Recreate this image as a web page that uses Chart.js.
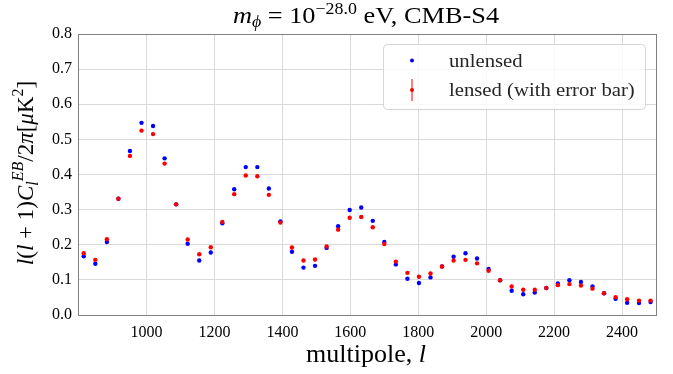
<!DOCTYPE html>
<html><head><meta charset="utf-8">
<script src="https://cdn.jsdelivr.net/npm/chart.js@4/dist/chart.umd.min.js"></script>
<style>html,body{margin:0;padding:0;background:#fff;}canvas{display:block;}</style>
</head><body>
<canvas id="c" width="673" height="374"></canvas>
<script>
const ells = [815, 849, 883, 917, 951, 985, 1019, 1053, 1087, 1121, 1155, 1189, 1223, 1258, 1292, 1326, 1360, 1394, 1428, 1462, 1496, 1530, 1564, 1598, 1632, 1666, 1700, 1734, 1768, 1802, 1836, 1870, 1904, 1939, 1973, 2007, 2041, 2075, 2109, 2143, 2177, 2211, 2245, 2279, 2313, 2347, 2381, 2415, 2450, 2484];
const unlensed = [0.167, 0.146, 0.208, 0.331, 0.467, 0.547, 0.538, 0.446, 0.315, 0.203, 0.155, 0.178, 0.261, 0.358, 0.421, 0.421, 0.360, 0.266, 0.180, 0.135, 0.140, 0.191, 0.253, 0.299, 0.306, 0.268, 0.208, 0.144, 0.103, 0.091, 0.107, 0.138, 0.166, 0.176, 0.161, 0.131, 0.099, 0.069, 0.059, 0.064, 0.077, 0.090, 0.099, 0.094, 0.081, 0.062, 0.046, 0.035, 0.034, 0.037];
const lensed = [0.176, 0.157, 0.216, 0.331, 0.453, 0.525, 0.515, 0.431, 0.315, 0.215, 0.173, 0.193, 0.265, 0.344, 0.397, 0.395, 0.342, 0.263, 0.192, 0.155, 0.158, 0.195, 0.243, 0.277, 0.279, 0.250, 0.202, 0.152, 0.120, 0.109, 0.118, 0.138, 0.155, 0.157, 0.147, 0.126, 0.099, 0.081, 0.072, 0.072, 0.077, 0.085, 0.088, 0.084, 0.075, 0.062, 0.051, 0.045, 0.041, 0.041];
const xTicks = [1000, 1200, 1400, 1600, 1800, 2000, 2200, 2400];
const yTicks = [0.0, 0.1, 0.2, 0.3, 0.4, 0.5, 0.6, 0.7, 0.8];
const seriesNames = ['unlensed', 'lensed (with error bar)'];

const SERIF = '"Liberation Serif", "DejaVu Serif", serif';

function drawRich(ctx, parts, x, y, align, sx) {
  sx = sx || 1;
  let total = 0;
  const ms = parts.map(p => {
    ctx.font = (p.italic ? 'italic ' : '') + p.size + 'px ' + SERIF;
    const w = ctx.measureText(p.t).width;
    total += w;
    return w;
  });
  ctx.save();
  ctx.translate(x, y);
  ctx.scale(sx, 1);
  let cx = align === 'center' ? -total / 2 : 0;
  ctx.textBaseline = 'alphabetic';
  ctx.textAlign = 'left';
  parts.forEach((p, i) => {
    ctx.font = (p.italic ? 'italic ' : '') + p.size + 'px ' + SERIF;
    ctx.fillText(p.t, cx, (p.dy || 0));
    cx += ms[i];
  });
  ctx.restore();
}

const decor = {
  id: 'decor',
  afterDatasetsDraw(chart) {
    const ctx = chart.ctx, a = chart.chartArea;
    ctx.save();
    // frame
    ctx.strokeStyle = '#808080';
    ctx.lineWidth = 1;
    ctx.strokeRect(a.left + 0.5, a.top + 0.5, a.right - a.left, a.bottom - a.top);
    // legend
    const lx = 383.5, ly = 44.5, lw = 262, lh = 65, r = 4;
    ctx.beginPath();
    ctx.moveTo(lx + r, ly);
    ctx.arcTo(lx + lw, ly, lx + lw, ly + lh, r);
    ctx.arcTo(lx + lw, ly + lh, lx, ly + lh, r);
    ctx.arcTo(lx, ly + lh, lx, ly, r);
    ctx.arcTo(lx, ly, lx + lw, ly, r);
    ctx.closePath();
    ctx.fillStyle = 'rgba(255,255,255,0.8)';
    ctx.fill();
    ctx.strokeStyle = 'rgba(204,204,204,0.8)';
    ctx.stroke();
    ctx.fillStyle = '#0000ff';
    ctx.beginPath(); ctx.arc(412, 60.5, 2, 0, Math.PI * 2); ctx.fill();
    ctx.strokeStyle = '#ff0000';
    ctx.lineWidth = 1;
    ctx.beginPath(); ctx.moveTo(412, 79); ctx.lineTo(412, 101); ctx.stroke();
    ctx.fillStyle = '#ff0000';
    ctx.beginPath(); ctx.arc(412, 90, 2, 0, Math.PI * 2); ctx.fill();
    ctx.fillStyle = '#262626';
    drawRich(ctx, [{t: seriesNames[0], size: 19}], 449, 67, 'left', 1.09);
    drawRich(ctx, [{t: seriesNames[1], size: 19}], 449, 96, 'left', 1.09);
    ctx.restore();
  },
  afterDraw(chart) {
    const ctx = chart.ctx;
    ctx.save();
    ctx.fillStyle = '#000';
    // title
    drawRich(ctx, [
      {t: 'm', italic: true, size: 23.5},
      {t: 'ϕ', italic: true, size: 16, dy: 4},
      {t: ' = 10', size: 23.5},
      {t: '−28.0', size: 16, dy: -9},
      {t: ' eV, CMB-S4', size: 23.5}
    ], 366, 23, 'center', 1.12);
    // x label
    drawRich(ctx, [
      {t: 'multipole, ', size: 25},
      {t: 'l', italic: true, size: 25}
    ], 366, 362, 'center', 1.04);
    // y label
    ctx.translate(33, 173);
    ctx.rotate(-Math.PI / 2);
    drawRich(ctx, [
      {t: 'l', italic: true, size: 23},
      {t: '(', size: 23},
      {t: 'l', italic: true, size: 23},
      {t: ' + 1)', size: 23},
      {t: 'C', italic: true, size: 23},
      {t: 'l', italic: true, size: 16, dy: 5},
      {t: 'EB', italic: true, size: 16, dy: -10},
      {t: '/2', size: 23},
      {t: 'π', italic: true, size: 23},
      {t: '[', size: 23},
      {t: 'μ', italic: true, size: 23},
      {t: 'K', size: 23},
      {t: '2', size: 16, dy: -10},
      {t: ']', size: 23}
    ], 0, 0, 'center', 1);
    ctx.restore();
  }
};

const toPts = (ys) => ells.map((x, i) => ({x: x, y: ys[i]}));

new Chart(document.getElementById('c'), {
  type: 'scatter',
  data: {
    datasets: [
      {label: seriesNames[1], data: toPts(lensed), backgroundColor: '#ff0000', borderColor: '#ff0000', pointRadius: 2.2, pointBorderWidth: 0, order: 0},
      {label: seriesNames[0], data: toPts(unlensed), backgroundColor: '#0000ff', borderColor: '#0000ff', pointRadius: 2.2, pointBorderWidth: 0, order: 1}
    ]
  },
  options: {
    responsive: false,
    devicePixelRatio: 1,
    animation: false,
    layout: {padding: {left: 0, top: 34, right: 17, bottom: 0}},
    plugins: {legend: {display: false}, title: {display: false}, tooltip: {enabled: false}},
    scales: {
      x: {
        type: 'linear', min: 798, max: 2500,
        afterBuildTicks: (s) => { s.ticks = xTicks.map(v => ({value: v})); },
        afterFit: (s) => { s.height = 59; },
        grid: {color: '#d9d9d9', lineWidth: 1, drawTicks: false},
        border: {display: true, color: '#808080'},
        ticks: {color: '#000', padding: 8, maxRotation: 0, autoSkip: false, font: {family: SERIF, size: 16}, callback: (v) => String(v)}
      },
      y: {
        type: 'linear', min: 0, max: 0.8,
        afterBuildTicks: (s) => { s.ticks = yTicks.map(v => ({value: v})); },
        afterFit: (s) => { s.width = 78; },
        grid: {color: '#d9d9d9', lineWidth: 1, drawTicks: false},
        border: {display: true, color: '#808080'},
        ticks: {color: '#000', padding: 6, font: {family: SERIF, size: 16}, callback: (v) => v.toFixed(1)}
      }
    }
  },
  plugins: [decor]
});
</script>
</body></html>
